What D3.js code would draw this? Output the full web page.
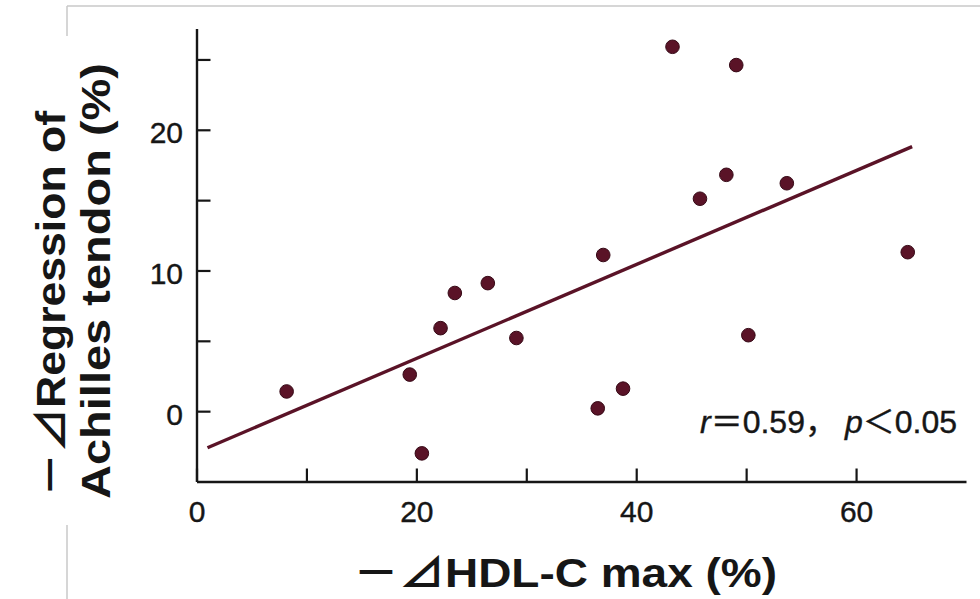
<!DOCTYPE html>
<html>
<head>
<meta charset="utf-8">
<script src="https://cdn.jsdelivr.net/npm/d3@7"></script>
<style>
  body { margin: 0; background: #fff; }
  svg { display: block; }
</style>
</head>
<body>
<svg id="chart"></svg>
<script>
// values
const hdlDrop = [8.2, 19.4, 20.5, 22.2, 23.5, 26.5, 29.1, 36.5, 37.0, 38.8, 43.3, 45.8, 48.2, 49.1, 50.2, 53.7, 64.7];
const tendonRegression = [1.4, 2.6, -3.0, 5.9, 8.4, 9.1, 5.2, 0.2, 11.1, 1.6, 25.9, 15.1, 16.8, 24.6, 5.4, 16.2, 11.3];

// regression line end points
const fitX = [1.0, 65.1];
const fitY = [-2.6, 18.8];

const xTickValues = [0, 10, 20, 30, 40, 50, 60];
const xTickLabels = ['0', '', '20', '', '40', '', '60'];
const yTickValues = [0, 5, 10, 15, 20, 25];
const yTickLabels = ['0', '', '10', '', '20', ''];

const yLabelLines = ['－⊿Regression of', 'Achilles tendon (%)'];
const xLabel = '－⊿HDL-C max (%)';

const W = 980;
const H = 599;
const ink = '#161616';
const maroon = '#5a1327';
const font = '"Liberation Sans", Arial, "Noto Sans CJK JP", sans-serif';

const svg = d3.select('#chart')
  .attr('width', W)
  .attr('height', H);

svg.append('rect').attr('width', W).attr('height', H).attr('fill', '#fff');

// page frame from the scan
svg.append('line')
  .attr('x1', 67).attr('y1', 6).attr('x2', W).attr('y2', 6)
  .attr('stroke', '#c9c9c9').attr('stroke-width', 1.5);
svg.append('line')
  .attr('x1', 67).attr('y1', 6).attr('x2', 67).attr('y2', 36)
  .attr('stroke', '#c9c9c9').attr('stroke-width', 1.5);
svg.append('line')
  .attr('x1', 67).attr('y1', 525).attr('x2', 67).attr('y2', H)
  .attr('stroke', '#c9c9c9').attr('stroke-width', 1.5);

// scales
const x = d3.scaleLinear().domain([0, 70]).range([196.5, 966]);
const y = d3.scaleLinear().domain([-5, 27.2]).range([481.5, 28.5]);

// axes (ticks point inward)
const xAxis = d3.axisBottom(x)
  .tickValues(xTickValues)
  .tickSize(-13)
  .tickSizeOuter(0)
  .tickPadding(19)
  .tickFormat((d, i) => xTickLabels[i]);

const yAxis = d3.axisLeft(y)
  .tickValues(yTickValues)
  .tickSize(-14)
  .tickSizeOuter(0)
  .tickPadding(13.5)
  .tickFormat((d, i) => yTickLabels[i]);

const gx = svg.append('g')
  .attr('transform', `translate(0,${y(-5)})`)
  .call(xAxis);

const gy = svg.append('g')
  .attr('transform', `translate(${x(0)},0)`)
  .call(yAxis);

[gx, gy].forEach(g => {
  g.select('.domain').attr('stroke', ink).attr('stroke-width', 2.4);
  g.selectAll('.tick line').attr('stroke', ink).attr('stroke-width', 2.2);
  g.selectAll('.tick text')
    .attr('fill', ink)
    .attr('stroke', ink)
    .attr('stroke-width', 0.4)
    .style('font-family', font)
    .style('font-size', '30px');
});
gy.selectAll('.tick text').attr('dy', '0.44em');

// regression line
const line = d3.line()
  .x(d => x(d[0]))
  .y(d => y(d[1]));

svg.append('path')
  .datum(fitX.map((v, i) => [v, fitY[i]]))
  .attr('d', line)
  .attr('fill', 'none')
  .attr('stroke', maroon)
  .attr('stroke-width', 3.4);

// points
svg.selectAll('.dot')
  .data(hdlDrop.map((v, i) => [v, tendonRegression[i]]))
  .enter().append('circle')
  .attr('class', 'dot')
  .attr('cx', d => x(d[0]))
  .attr('cy', d => y(d[1]))
  .attr('r', 6.8)
  .attr('fill', maroon)
  .attr('stroke', '#360916')
  .attr('stroke-width', 1);

// statistics note
const stat = svg.append('text')
  .attr('x', 700)
  .attr('y', 433)
  .attr('fill', ink)
  .attr('stroke', ink)
  .attr('stroke-width', 0.4)
  .style('font-family', font)
  .style('font-size', '32px');
stat.append('tspan').style('font-style', 'italic').text('r');
stat.append('tspan').text('＝0.59，');
stat.append('tspan').attr('dx', 8).style('font-style', 'italic').text('p');
stat.append('tspan').text('＜0.05');

// axis titles
svg.append('text')
  .attr('x', 353)
  .attr('y', 587)
  .attr('textLength', 424)
  .attr('lengthAdjust', 'spacingAndGlyphs')
  .attr('fill', ink)
  .style('font-family', font)
  .style('font-weight', 'bold')
  .style('font-size', '40px')
  .text(xLabel);

const yLabelPos = [{ bx: 65, start: 497, len: 386 }, { bx: 110, start: 499, len: 436 }];
yLabelLines.forEach((t, i) => {
  svg.append('text')
    .attr('transform', `translate(${yLabelPos[i].bx},${yLabelPos[i].start}) rotate(-90)`)
    .attr('textLength', yLabelPos[i].len)
    .attr('lengthAdjust', 'spacingAndGlyphs')
    .attr('fill', ink)
    .style('font-family', font)
    .style('font-weight', 'bold')
    .style('font-size', '40px')
    .text(t);
});
</script>
</body>
</html>
